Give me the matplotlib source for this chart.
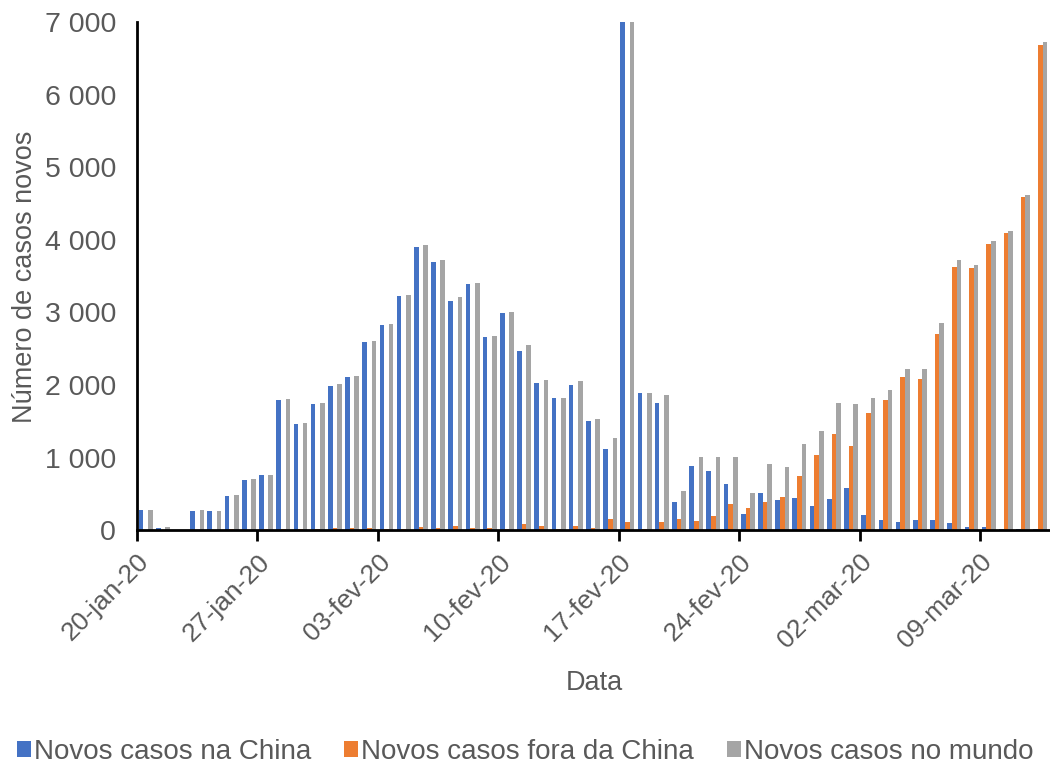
import matplotlib.pyplot as plt
import numpy as np
import pandas as pd

plt.rcParams['font.family'] = ['Liberation Sans', 'DejaVu Sans']

# daily new cases, 20-jan-20 .. 12-mar-20 (22-jan has no report)
dias = pd.date_range('2020-01-20', '2020-03-12', freq='D')
meses = {1: 'jan', 2: 'fev', 3: 'mar'}

china = [278, 32, 0, 262, 259, 469, 694, 754, 1793, 1462,
         1742, 1990, 2106, 2589, 2828, 3232, 3899, 3701, 3155, 3388,
         2658, 2988, 2473, 2023, 1821, 2000, 1508, 1114, 7000, 1887,
         1746, 387, 885, 816, 640, 216, 515, 414, 441, 331,
         432, 575, 207, 133, 115, 138, 142, 97, 36, 36,
         13, 20, 20]
fora = [4, 2, 0, 5, 7, 10, 5, 9, 18, 14,
        14, 24, 22, 30, 14, 14, 38, 30, 60, 23,
        23, 14, 78, 50, 10, 62, 25, 156, 110, 10,
        110, 147, 119, 193, 364, 299, 390, 459, 745, 1030,
        1320, 1163, 1610, 1793, 2106, 2083, 2708, 3627, 3613, 3945,
        4096, 4584, 6692]
mundo = [282, 37, 0, 270, 266, 479, 699, 763, 1811, 1476,
         1756, 2014, 2128, 2607, 2837, 3241, 3927, 3728, 3210, 3410,
         2676, 3002, 2552, 2069, 1825, 2060, 1527, 1272, 7000, 1896,
         1861, 539, 1013, 1013, 1005, 515, 906, 869, 1186, 1361,
         1756, 1738, 1817, 1927, 2221, 2225, 2850, 3723, 3655, 3990,
         4124, 4621, 6724]

n = len(dias)
x = np.arange(n) + 0.5
w = 0.27
cinza = '#595959'

fig = plt.figure(figsize=(10.5, 7.66), dpi=100)
ax = fig.add_axes([0.1305, 0.308, 0.8685, 0.663])

ax.bar(x - w, china, w, color='#4472C4', label='Novos casos na China')
ax.bar(x, fora, w, color='#ED7D31', label='Novos casos fora da China')
ax.bar(x + w, mundo, w, color='#A5A5A5', label='Novos casos no mundo')

ax.set_xlim(0, n)
ax.set_ylim(0, 7000)
ax.set_yticks(range(0, 7001, 1000))
ax.set_yticklabels([f'{v:,}'.replace(',', ' ') for v in range(0, 7001, 1000)])

pos = np.arange(0, n, 7)
ax.set_xticks(pos)
ax.set_xticklabels([f'{dias[p].day:02d}-{meses[dias[p].month]}-20' for p in pos],
                   rotation=45, ha='right', va='top', rotation_mode='anchor')

for s in ['top', 'right']:
    ax.spines[s].set_visible(False)
for s in ['left', 'bottom']:
    ax.spines[s].set_linewidth(2)
    ax.spines[s].set_color('black')

ax.tick_params(axis='y', length=0, pad=15, labelsize=20.5, labelcolor=cinza)
ax.tick_params(axis='x', length=8, width=2, pad=6, labelsize=19, labelcolor=cinza)

fig.text(25 / 1050, 1 - 277 / 766, 'Número de casos novos', rotation=90,
         ha='center', va='center', fontsize=19.5, color=cinza)
fig.text(594 / 1050, 1 - 683 / 766, 'Data', ha='center', va='center',
         fontsize=19.5, color=cinza)

fig.legend(loc='center', bbox_to_anchor=(0.5, 1 - 752 / 766), ncol=3, frameon=False,
           handlelength=0.5, handleheight=0.5, handletextpad=0.1,
           columnspacing=1.2, fontsize=20, labelcolor=cinza)

fig.savefig('out.png', dpi=100)
